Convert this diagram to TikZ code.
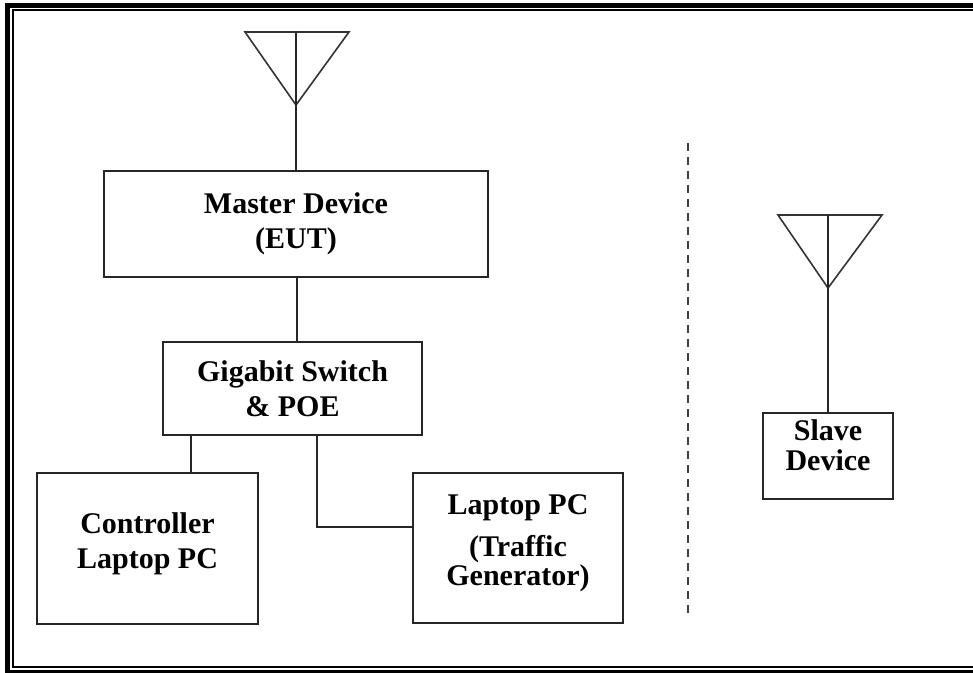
\documentclass[tikz,border=0pt]{standalone}
\usepackage{fontspec}
\setmainfont{Liberation Serif}

\begin{document}
\begin{tikzpicture}[x=0.5pt,y=-0.5pt,
  box/.style={draw=black!85,line width=0.9pt,inner sep=0pt},
  lbl/.style={font=\bfseries\fontsize{15}{17.5}\selectfont,align=center,inner sep=0pt},
  wire/.style={draw=black!85,line width=0.8pt},
  aerial/.style={draw=black!80,line width=0.8pt,line join=miter}]
\useasboundingbox (0,0) rectangle (973,673);
\clip (0,0) rectangle (973,673);
% page frame
\draw [line width=2.5pt] (7.5,5.5) rectangle (995,672);
\draw [line width=1pt] (13,10.5) rectangle (985,667);
% master antenna
\coordinate (mtop) at (296,32);
\coordinate (mleft) at (245,32);
\coordinate (mright) at (349,32);
\coordinate (mtip) at (296,105);
\draw [aerial] (mleft) -- (mright) -- (mtip) -- cycle;
% boxes
\node [box,minimum width=192pt,minimum height=53pt] (master) at (296,224) {};
\node [lbl] (mastertxt) at (master.center) {Master Device\\(EUT)};
\node [box,minimum width=129.5pt,minimum height=46.5pt] (switch) at (292.5,388.5) {};
\node [lbl] (switchtxt) at (switch.center) {Gigabit Switch\\\& POE};
\node [box,minimum width=110.5pt,minimum height=75.5pt] (ctrl) at (147.5,548.5) {};
\node [lbl] (ctrltxt) at ([yshift=2.5pt]ctrl.center) {Controller\\Laptop PC};
\node [box,minimum width=105pt,minimum height=75pt] (laptop) at (518,548) {};
\node [lbl] (laptoptxt) at ([yshift=2.4pt]laptop.center) {Laptop PC\\[3.5pt](Traffic\\[-3pt]Generator)};
\node [box,minimum width=65pt,minimum height=43pt] (slave) at (828,456) {};
\node [lbl] (slavetxt) at ([yshift=5.6pt]slave.center) {Slave\\[-2.5pt]Device};
% links
\coordinate (mjoin) at (297,0);
\coordinate (cjoin) at (191,0);
\coordinate (ljoin) at (317,527);
\draw [wire] (mtop) -- (master.north);
\draw [wire] (master.south -| mjoin) -- (switch.north -| mjoin);
\draw [wire] (switch.south -| cjoin) -- (ctrl.north -| cjoin);
\draw [wire] (switch.south -| ljoin) |- (laptop.west |- ljoin);
% separator
\coordinate (septop) at (688,143);
\coordinate (sepbot) at (688,613);
\draw [draw=black!75,line width=1pt,dash pattern=on 4pt off 3pt] (septop) -- (sepbot);
% slave antenna
\coordinate (stop) at (828,215);
\coordinate (sleft) at (778,215);
\coordinate (sright) at (882,215);
\coordinate (stip) at (828,288);
\draw [aerial] (sleft) -- (sright) -- (stip) -- cycle;
\draw [wire] (stop) -- (slave.north);
\end{tikzpicture}
\end{document}
